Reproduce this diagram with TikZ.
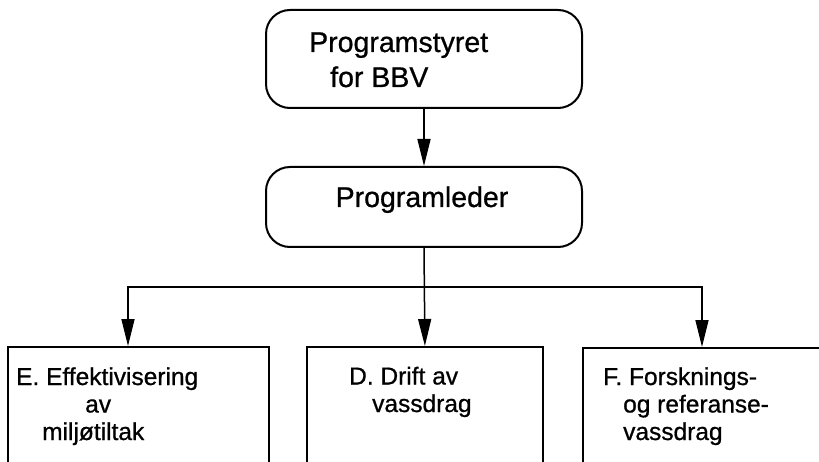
\documentclass[tikz,border=0pt]{standalone}
\usepackage{fontspec}
\setmainfont{Liberation Sans}[BoldFont=Liberation Sans,BoldFeatures={FakeBold=0.8}]
\usetikzlibrary{arrows.meta}
\begin{document}
\begin{tikzpicture}[x=1pt,y=-1pt,
  rbox/.style={draw,line width=2pt,rounded corners=24pt,inner sep=0pt},
  sbox/.style={draw,line width=1.8pt,inner sep=0pt},
  big/.style={font=\fontsize{28.5}{35}\selectfont\bfseries,align=left,inner sep=0pt,anchor=base west},
  small/.style={font=\fontsize{24.5}{27.5}\selectfont\bfseries,align=left,inner sep=0pt,anchor=base west},
  conn/.style={line width=1.5pt},
  arr/.style={conn,-{Triangle[length=27pt,width=13pt]}}]
\useasboundingbox (0,0) rectangle (819,462);
\clip (0,0) rectangle (819,462);
% boxes
\node[rbox,minimum width=316pt,minimum height=98pt] (top) at (424,59) {};
\node[rbox,minimum width=316pt,minimum height=80pt] (mid) at (424,207) {};
\node[sbox,minimum width=261pt,minimum height=140pt,anchor=north west] (E) at (7,346) {};
\node[sbox,minimum width=236pt,minimum height=140pt,anchor=north west] (D) at (306,346) {};
\node[sbox,minimum width=260pt,minimum height=140pt,anchor=north west] (F) at (582,347) {};
% texts (base anchor = baseline of last line)
\node[big] (toptxt) at (309,87) {Programstyret\\\hspace*{21pt}for BBV};
\node[big,anchor=base] (midtxt) at (422,207) {Programleder};
\node[small] (Etxt) at (16,440) {E. Effektivisering\\\hspace*{69pt}av\\\hspace*{26pt}miljøtiltak};
\node[small] (Dtxt) at (349,412) {D. Drift av\\\hspace*{23pt}vassdrag};
\node[small] (Ftxt) at (603,440) {F. Forsknings-\\\hspace*{20pt}og referanse-\\\hspace*{20pt}vassdrag};
% connectors
\coordinate (j) at (424,287);
\coordinate (eT) at (128,346);
\coordinate (fT) at (702,347);
\draw[arr] (top.south) -- (mid.north);
\draw[arr] (mid.south) -- (D.north);
\draw[arr] (j) -| (eT);
\draw[arr] (j) -| (fT);
\end{tikzpicture}
\end{document}
